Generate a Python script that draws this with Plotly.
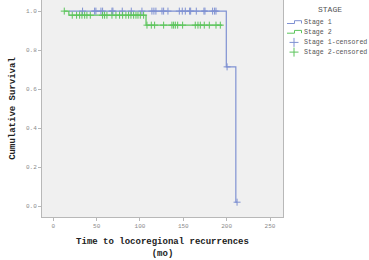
import plotly.graph_objects as go

# Kaplan-Meier step data (time in months, cumulative survival)
stage1_times = [18, 199.6, 210.6, 212]
stage1_surv = [1.0, 0.714, 0.02, 0.02]
stage2_times = [12.7, 18, 107, 195]
stage2_surv = [1.0, 0.979, 0.928, 0.928]

# censored observations
stage1_cens_t = [33.8, 47.7, 49.2, 55, 56.9, 67.7, 68.8, 79.6, 90, 102.3, 113.8, 116.1,
                 118.4, 125.4, 127.3, 132.3, 145.4, 148.8, 152.3, 157.3, 158.5, 165,
                 173.8, 175, 183.8, 186.1, 187.7, 200.5, 212]
stage1_cens_s = [1.0] * 27 + [0.714, 0.02]
stage2_cens_t = [12.7, 21.9, 26.9, 30.4, 33.1, 36.2, 38.8, 42.7, 56.9, 59.2, 61.9, 67.7,
                 72.3, 76.5, 80, 83.8, 86.9, 89.6, 92.7, 95.4, 97.7, 100.4, 104.2,
                 108.1, 113.1, 116.9, 127.3, 136.9, 138.8, 140.8, 143.5, 149.2, 163.8,
                 166.9, 169.6, 174.2, 180, 187.7, 192.7]
stage2_cens_s = [1.0] + [0.979] * 22 + [0.928] * 16

x_ticks = [0, 50, 100, 150, 200, 250]
y_ticks = [0.0, 0.2, 0.4, 0.6, 0.8, 1.0]
y_tick_labels = ["0.0", "0.2", "0.4", "0.6", "0.8", "1.0"]

legend_title = "STAGE"
legend_labels = ["Stage 1", "Stage 2", "Stage 1-censored", "Stage 2-censored"]

BLUE = "#7f91d2"
GREEN = "#5cc45c"
MONO = "Liberation Mono"

W, H = 369, 260
ML, MR, MT, MB = 42, 86, 0, 43
PW, PH = W - ML - MR, H - MT - MB


def px(xp):
    return (xp - ML) / PW


def py(yp):
    return (H - MB - yp) / PH


fig = go.Figure()
fig.add_trace(go.Scatter(x=stage1_times, y=stage1_surv, mode="lines", line_shape="hv",
                         line=dict(color=BLUE, width=1.2), name=legend_labels[0]))
fig.add_trace(go.Scatter(x=stage2_times, y=stage2_surv, mode="lines", line_shape="hv",
                         line=dict(color=GREEN, width=1.2), name=legend_labels[1]))
fig.add_trace(go.Scatter(x=stage1_cens_t, y=stage1_cens_s, mode="markers",
                         marker=dict(symbol="cross-thin", size=5, line=dict(color=BLUE, width=1)),
                         name=legend_labels[2]))
fig.add_trace(go.Scatter(x=stage2_cens_t, y=stage2_cens_s, mode="markers",
                         marker=dict(symbol="cross-thin", size=5, line=dict(color=GREEN, width=1)),
                         name=legend_labels[3]))

axis_common = dict(showgrid=False, zeroline=False, showline=True, linecolor="#b8b8b8",
                   linewidth=1, mirror=True, ticks="outside", ticklen=3, tickcolor="#b8b8b8",
                   tickfont=dict(family=MONO, size=6, color="#8a8a8a"))

# hand-built legend (SPSS style)
shapes = []
annotations = [dict(x=px(330), y=py(9), xref="paper", yref="paper", text=legend_title,
                    showarrow=False, xanchor="center", yanchor="middle",
                    font=dict(family=MONO, size=8, color="#555"))]
colors = [BLUE, GREEN, BLUE, GREEN]
for i, (lab, col) in enumerate(zip(legend_labels, colors)):
    yc = 23 + i * 9.7
    annotations.append(dict(x=px(302), y=py(yc), xref="paper", yref="paper", text=lab,
                            showarrow=False, xanchor="left", yanchor="middle",
                            font=dict(family=MONO, size=6.6, color="#555")))
    if i < 2:
        yb, yt = yc + 0.5, yc - 2.3
        path = (f"M {px(287)} {py(yb)} L {px(294.5)} {py(yb)} L {px(294.5)} {py(yt)} "
                f"L {px(301.5)} {py(yt)} L {px(301.5)} {py(yb)}")
        shapes.append(dict(type="path", path=path, xref="paper", yref="paper",
                           line=dict(color=col, width=1)))
    else:
        shapes.append(dict(type="line", xref="paper", yref="paper", x0=px(289.5), x1=px(298.5),
                           y0=py(yc), y1=py(yc), line=dict(color=col, width=1)))
        shapes.append(dict(type="line", xref="paper", yref="paper", x0=px(294), x1=px(294),
                           y0=py(yc - 4.5), y1=py(yc + 4.5), line=dict(color=col, width=1)))

fig.update_layout(
    width=W, height=H,
    margin=dict(l=ML, r=MR, t=MT, b=MB),
    paper_bgcolor="white", plot_bgcolor="#f0f0f0",
    xaxis=dict(range=[-13, 265], tickvals=x_ticks,
               title=dict(text="<b>Time to locoregional recurrences<br>(mo)</b>",
                          font=dict(family=MONO, size=9, color="#222"), standoff=8),
               **axis_common),
    yaxis=dict(range=[-0.056, 1.057], tickvals=y_ticks, ticktext=y_tick_labels,
               title=dict(text="<b>Cumulative Survival</b>",
                          font=dict(family=MONO, size=9, color="#222"), standoff=8),
               **axis_common),
    showlegend=False,
    shapes=shapes,
    annotations=annotations,
)

fig.write_html("out.html")
